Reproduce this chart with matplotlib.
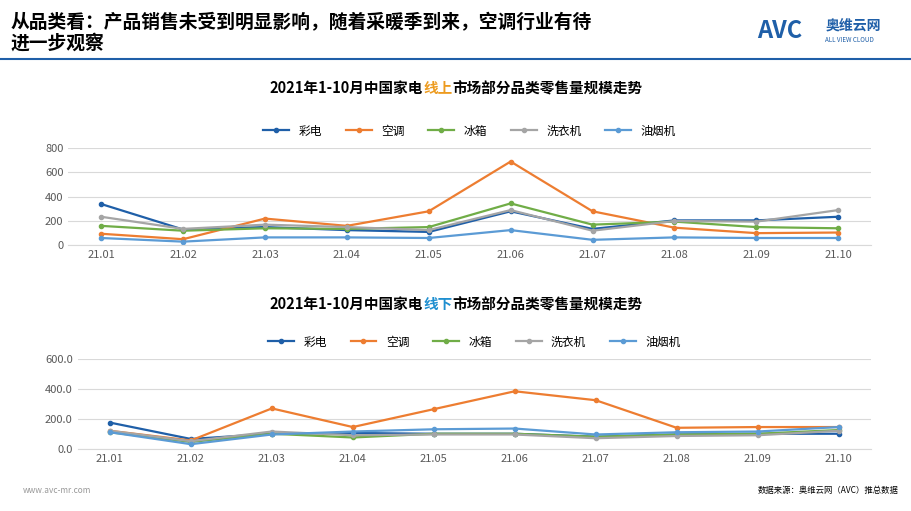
import matplotlib
matplotlib.use("Agg")
import matplotlib.pyplot as plt

plt.rcParams['font.family'] = ['Noto Sans CJK SC', 'DejaVu Sans']

months = ["21.01","21.02","21.03","21.04","21.05","21.06","21.07","21.08","21.09","21.10"]
series_names = ["彩电","空调","冰箱","洗衣机","油烟机"]
colors = ["#1F5FA8","#ED7D31","#70AD47","#A5A5A5","#5B9BD5"]

online_tv = [340,130,150,125,110,280,135,205,205,235]
online_ac = [95,50,220,160,280,690,280,145,100,105]
online_fridge = [160,120,140,135,150,345,170,195,150,140]
online_washer = [235,135,170,150,125,290,120,200,195,290]
online_hood = [60,30,65,65,60,125,45,65,60,60]

offline_tv = [175,65,100,105,100,100,80,95,100,100]
offline_ac = [120,55,270,145,265,385,325,140,145,145]
offline_fridge = [110,45,100,75,100,100,80,95,100,125]
offline_washer = [120,50,115,90,95,95,70,85,90,120]
offline_hood = [110,30,95,115,130,135,95,110,115,145]

fig = plt.figure(figsize=(9.12,5.11), dpi=100)
fig.text(0.012,0.955,"从品类看：产品销售未受到明显影响，随着采暖季到来，空调行业有待",fontsize=13.5,fontweight='bold',va='center')
fig.text(0.012,0.915,"进一步观察",fontsize=13.5,fontweight='bold',va='center')
fig.text(0.83,0.94,"AVC",fontsize=17,fontweight='bold',color='#1F5FA8',va='center',style='italic')
fig.text(0.905,0.95,"奥维云网",fontsize=10,fontweight='bold',color='#1F5FA8',va='center')
fig.text(0.905,0.922,"ALL VIEW CLOUD",fontsize=4.5,color='#1F5FA8',va='center')
fig.add_artist(plt.Line2D([0,1],[0.885,0.885],color='#1F5FA8',lw=1.5))
fig.text(0.025,0.035,"www.avc-mr.com",fontsize=6,color='#999999')
fig.text(0.985,0.035,"数据来源：奥维云网（AVC）推总数据",fontsize=6,ha='right')

def draw(ax, data, ymax, yt, fmt, title_parts):
    x = range(len(months))
    for name, vals, c in zip(series_names, data, colors):
        ax.plot(x, vals, color=c, lw=1.6, marker='o', ms=3, label=name)
    ax.set_ylim(0, ymax)
    ax.set_yticks(yt)
    ax.set_yticklabels([fmt.format(v) for v in yt])
    ax.set_xticks(list(x))
    ax.set_xticklabels(months)
    ax.set_xlim(-0.4, 9.4)
    ax.grid(axis='y', color='#D9D9D9', lw=0.8)
    ax.set_axisbelow(True)
    for s in ['top','right','left']:
        ax.spines[s].set_visible(False)
    ax.spines['bottom'].set_color('#D9D9D9')
    ax.tick_params(length=0, labelsize=8, colors='#595959')
    ax.legend(loc='lower center', bbox_to_anchor=(0.5,1.0), ncol=5, frameon=False, fontsize=8.5, handlelength=2.2)

ax1 = fig.add_axes([0.075,0.52,0.88,0.19])
draw(ax1,[online_tv,online_ac,online_fridge,online_washer,online_hood],800,[0,200,400,600,800],"{:d}",None)
ax2 = fig.add_axes([0.085,0.122,0.87,0.175])
draw(ax2,[offline_tv,offline_ac,offline_fridge,offline_washer,offline_hood],600,[0,200,400,600],"{:.1f}",None)

def title(y, mid, midc):
    t1 = "2021年1-10月中国家电"; t3 = "市场部分品类零售量规模走势"
    r = fig.canvas.get_renderer()
    parts = [(t1,'black'),(mid,midc),(t3,'black')]
    texts = [fig.text(0,y,p,fontsize=10.5,fontweight='bold',color=c,va='center') for p,c in parts]
    ws = [t.get_window_extent(r).width/fig.bbox.width for t in texts]
    x = 0.5 - sum(ws)/2
    for t,w in zip(texts,ws):
        t.set_x(x); x += w
title(0.827,"线上","#ED9B1F")
title(0.405,"线下","#1F8FD0")

fig.savefig("out.png", dpi=100)
